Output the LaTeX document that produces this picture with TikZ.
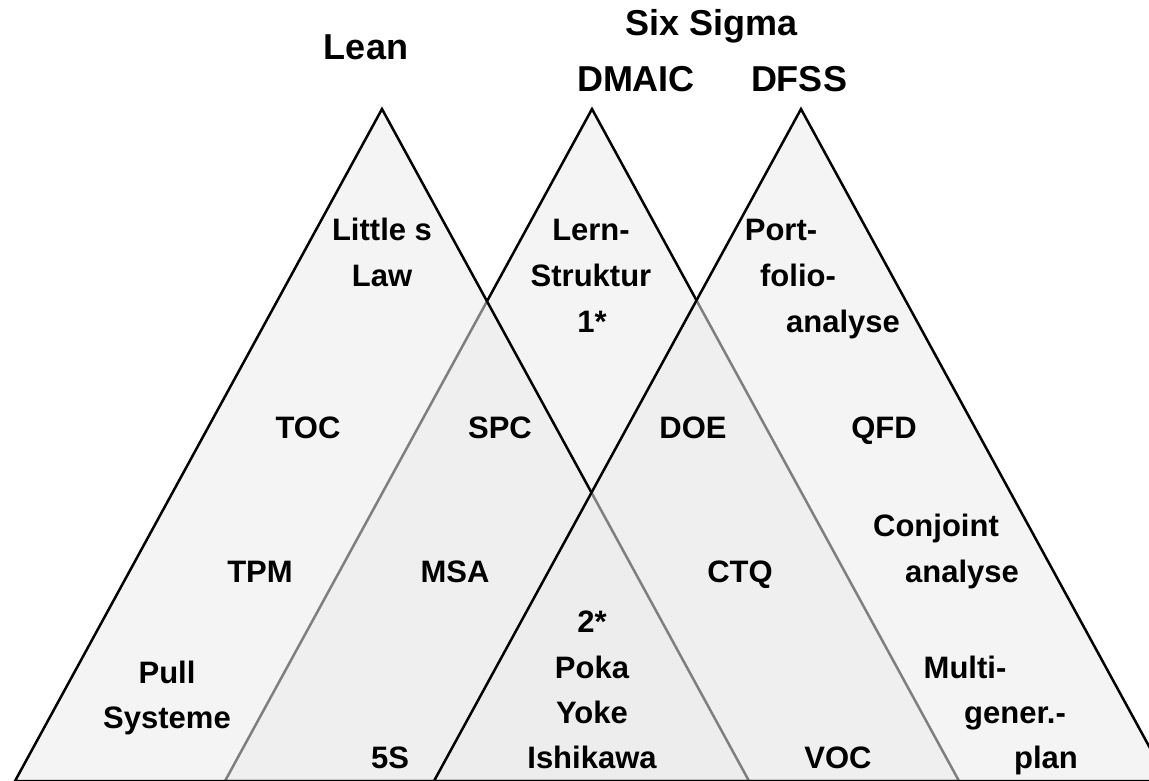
\documentclass[tikz,border=0pt]{standalone}
\usepackage{fontspec}
\setmainfont{Liberation Sans}
\begin{document}
\begin{tikzpicture}[x=1pt,y=-1pt,
  tri/.style={fill=black!8, fill opacity=0.54, draw=black, line width=2.5pt, line join=miter},
  lbl/.style={anchor=base, font=\fontsize{31}{37}\selectfont\bfseries, inner sep=0pt},
  hd/.style={anchor=base, font=\fontsize{36}{43}\selectfont\bfseries, inner sep=0pt}]
\useasboundingbox (0,0) rectangle (1149,780);
\clip (0,0) rectangle (1149,780);
% triangles: center, left, right
\coordinate (cT) at (592,109);
\coordinate (cL) at (225,781);
\coordinate (cR) at (959,781);
\coordinate (lT) at (382,109);
\coordinate (lL) at (15,781);
\coordinate (lR) at (749,781);
\coordinate (rT) at (801,109);
\coordinate (rL) at (434,781);
\coordinate (rR) at (1168,781);
\path[tri] (cT) -- (cL) -- (cR) -- cycle;
\path[tri] (lT) -- (lL) -- (lR) -- cycle;
\path[tri] (rT) -- (rL) -- (rR) -- cycle;
% headings
\node[hd] (lean) at (366,59) {Lean};
\node[hd] (sixsigma) at (712,35) {Six Sigma};
\node[hd] (dmaic) at (636,91) {DMAIC};
\node[hd] (dfss) at (799,91) {DFSS};
% row 1
\node[lbl] (little) at (382,240) {Little s};
\node[lbl] (law) at (382,286) {Law};
\node[lbl] (lern) at (591,240) {Lern-};
\node[lbl] (struktur) at (591,286) {Struktur};
\node[lbl] (one) at (592,332) {1*};
\node[lbl] (port) at (781,240) {Port-};
\node[lbl] (folio) at (798,286) {folio-};
\node[lbl] (analyseA) at (843,332) {analyse};
% row 2
\node[lbl] (toc) at (308,438) {TOC};
\node[lbl] (spc) at (500,438) {SPC};
\node[lbl] (doe) at (693,438) {DOE};
\node[lbl] (qfd) at (884,438) {QFD};
% row 3
\node[lbl] (conjoint) at (936,536) {Conjoint};
\node[lbl] (tpm) at (260,582) {TPM};
\node[lbl] (msa) at (455,582) {MSA};
\node[lbl] (ctq) at (740,582) {CTQ};
\node[lbl] (analyseB) at (962,582) {analyse};
% bottom rows
\node[lbl] (two) at (592,632) {2*};
\node[lbl] (poka) at (592,678) {Poka};
\node[lbl] (yoke) at (592,723) {Yoke};
\node[lbl] (ishikawa) at (592,768) {Ishikawa};
\node[lbl] (pull) at (167,683) {Pull};
\node[lbl] (systeme) at (167,728) {Systeme};
\node[lbl] (fives) at (390,768) {5S};
\node[lbl] (voc) at (838,768) {VOC};
\node[lbl] (multi) at (965,678) {Multi-};
\node[lbl] (gener) at (1015,723) {gener.-};
\node[lbl] (plan) at (1046,768) {plan};
\end{tikzpicture}
\end{document}
